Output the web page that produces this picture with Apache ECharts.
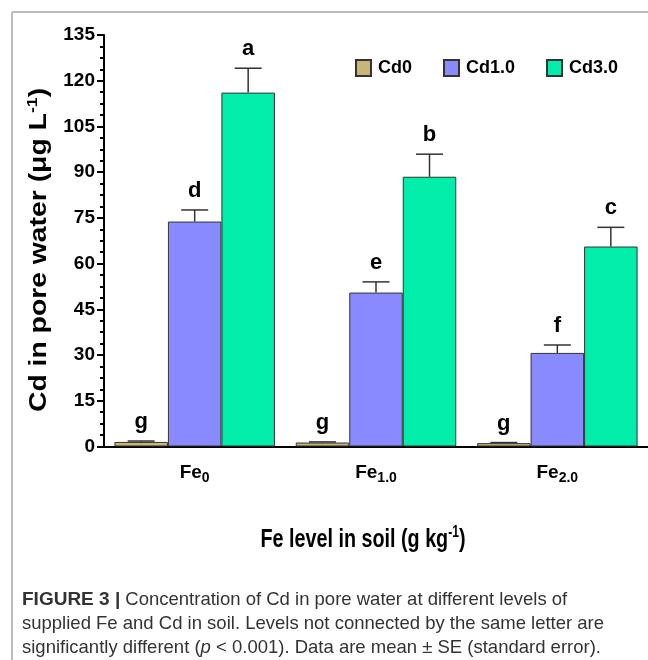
<!DOCTYPE html>
<html><head><meta charset="utf-8">
<script src="https://cdn.jsdelivr.net/npm/echarts@6/dist/echarts.min.js"></script>
<style>html,body{margin:0;padding:0;background:#fff}#c{width:648px;height:660px}</style>
</head><body><div id="c"></div>
<script>
const categories = ['Fe0', 'Fe1.0', 'Fe2.0'];
const catSub = ['0', '1.0', '2.0'];
const seriesNames = ['Cd0', 'Cd1.0', 'Cd3.0'];
const cd0 = [1.5, 1.3, 1.1];
const cd1 = [73.8, 50.5, 30.7];
const cd3 = [116.1, 88.5, 65.6];
const cd0Err = [0.3, 0.2, 0.2];
const cd1Err = [3.8, 3.5, 2.6];
const cd3Err = [8.0, 7.4, 6.3];
const cd0Letters = ['g', 'g', 'g'];
const cd1Letters = ['d', 'e', 'f'];
const cd3Letters = ['a', 'b', 'c'];
const yTicks = [0, 15, 30, 45, 60, 75, 90, 105, 120, 135];
const yTitle = 'Cd in pore water (μg L';
const xTitle = 'Fe level in soil (g kg';

const colors = ['#C8B677', '#8A8AFF', '#00EEAA'];
const values = [cd0, cd1, cd3];
const errs = [cd0Err, cd1Err, cd3Err];
const letters = [cd0Letters, cd1Letters, cd3Letters];
const BW = 53.5;
const FONT = 'Liberation Sans, Arial, sans-serif';

const chart = echarts.init(document.getElementById('c'));
const series = [];
seriesNames.forEach((n, i) => {
  series.push({
    name: n, type: 'bar', data: values[i], barWidth: BW, barGap: '0%',
    itemStyle: { color: colors[i], borderColor: '#333', borderWidth: 1 },
    z: 2
  });
});
seriesNames.forEach((n, i) => {
  series.push({
    type: 'custom', name: n + '_err', silent: true, z: 3,
    data: categories.map((c, k) => [k, values[i][k], errs[i][k]]),
    renderItem: function (params, api) {
      const k = api.value(0), v = api.value(1), e = api.value(2);
      const off = (i - 1) * BW;
      const p0 = api.coord([k, v]);
      const p1 = api.coord([k, v + e]);
      const x = p0[0] + off;
      const cap = 13.5;
      return {
        type: 'group', children: [
          { type: 'line', shape: { x1: x, y1: p0[1], x2: x, y2: p1[1] }, style: { stroke: '#333', lineWidth: 1.5 } },
          { type: 'line', shape: { x1: x - cap, y1: p1[1], x2: x + cap, y2: p1[1] }, style: { stroke: '#333', lineWidth: 1.5 } },
          { type: 'text', x: x, y: p1[1] - 8, style: { text: letters[i][k], font: 'bold 22px ' + FONT, fill: '#000', align: 'center', verticalAlign: 'bottom' } }
        ]
      };
    }
  });
});

chart.setOption({
  backgroundColor: '#fff',
  animation: false,
  grid: { left: 104, top: 35, width: 546, height: 411.5 },
  legend: {
    data: seriesNames, left: 350, top: 54, itemWidth: 15, itemHeight: 16, itemGap: 31,
    icon: 'rect',
    textStyle: { fontFamily: FONT, fontWeight: 'bold', fontSize: 18, color: '#000', padding: [0, 0, 0, 2] }
  },
  xAxis: {
    type: 'category', data: categories,
    axisLine: { lineStyle: { color: '#000', width: 2 } },
    axisTick: { alignWithLabel: true, length: 7, lineStyle: { color: '#000', width: 2 } },
    axisLabel: {
      margin: 13,
      formatter: function (v, idx) { return '{b|Fe}{s|' + catSub[idx] + '}'; },
      rich: {
        b: { fontFamily: FONT, fontWeight: 'bold', fontSize: 19, color: '#000' },
        s: { fontFamily: FONT, fontWeight: 'bold', fontSize: 14, color: '#000', padding: [12, 0, 0, 0] }
      }
    }
  },
  yAxis: {
    type: 'value', min: 0, max: 135, interval: 15,
    axisLine: { show: true, lineStyle: { color: '#000', width: 2 } },
    axisTick: { show: true, length: 7, lineStyle: { color: '#000', width: 2 } },
    minorTick: { show: true, splitNumber: 4, length: 4, lineStyle: { color: '#000', width: 2 } },
    splitLine: { show: false },
    axisLabel: { margin: 9, fontFamily: FONT, fontWeight: 'bold', fontSize: 19, color: '#000',
      formatter: function (v) { return yTicks.indexOf(v) >= 0 ? String(v) : ''; } }
  },
  graphic: [
    { type: 'line', shape: { x1: 12, y1: 12, x2: 648, y2: 12 }, style: { stroke: '#bbb', lineWidth: 2 } },
    { type: 'line', shape: { x1: 12, y1: 12, x2: 12, y2: 660 }, style: { stroke: '#bbb', lineWidth: 2 } },
    { type: 'text', x: 39, y: 250, rotation: Math.PI / 2, scaleX: 1.18, scaleY: 1, style: {
      text: '{n|' + yTitle + '}{p|-1}{n|)}', align: 'center', verticalAlign: 'middle',
      rich: {
        n: { font: 'bold 24px ' + FONT, fill: '#000' },
        p: { font: 'bold 15px ' + FONT, fill: '#000', padding: [0, 0, 13, 0] }
      }
    } },
    { type: 'text', x: 363, y: 540, scaleX: 0.76, style: {
      text: '{n|' + xTitle + '}{p|-1}{n|)}', align: 'center', verticalAlign: 'middle',
      rich: {
        n: { font: 'bold 26px ' + FONT, fill: '#000' },
        p: { font: 'bold 16px ' + FONT, fill: '#000', padding: [0, 0, 14, 0] }
      }
    } },
    { type: 'text', left: 22, top: 588, style: {
      text: '{b|FIGURE 3 |} Concentration of Cd in pore water at different levels of\nsupplied Fe and Cd in soil. Levels not connected by the same letter are\nsignificantly different ({i|p} < 0.001). Data are mean ± SE (standard error).',
      font: '18.5px ' + FONT, fill: '#333', lineHeight: 24,
      rich: {
        b: { font: 'bold 19px ' + FONT, fill: '#333', lineHeight: 24 },
        i: { font: 'italic 18.5px ' + FONT, fill: '#333', lineHeight: 24 }
      }
    } }
  ],
  series: series
});
</script></body></html>
